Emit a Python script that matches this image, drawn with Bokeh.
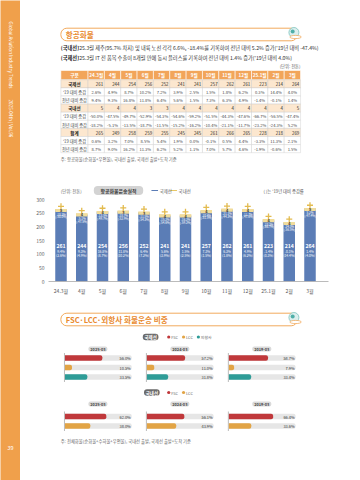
import numpy as np
from bokeh.plotting import figure
from bokeh.models import Range1d, FixedTicker
from bokeh.layouts import row, column
from bokeh.core.properties import value
from bokeh.embed import file_html
from bokeh.resources import INLINE

KR = "Noto Sans CJK KR"

# ---------------- data ----------------
months = ["24.3월", "4월", "5월", "6월", "7월", "8월", "9월", "10월", "11월", "12월", "25.1월", "2월", "3월"]
intl = [261, 244, 254, 256, 252, 241, 241, 257, 262, 261, 223, 214, 264]
intl_vs19 = [2.6, 4.9, 8.7, 10.2, 7.2, 3.9, 2.5, 1.5, 1.8, 6.2, 0.3, 14.4, 4.0]
intl_yoy = [9.4, 9.3, 16.8, 11.8, 6.4, 5.6, 1.5, 7.3, 6.3, 4.9, -1.4, -0.1, 1.4]
dom = [5, 4, 4, 3, 3, 4, 4, 4, 4, 4, 4, 4, 5]
dom_vs19 = [-50.0, -47.5, -49.7, -52.9, -54.3, -54.6, -59.2, -51.5, -44.3, -47.6, -66.7, -56.5, -47.4]
dom_yoy = [-18.2, -5.1, -13.5, -18.7, -11.5, -15.2, -16.2, -10.4, -21.1, -11.7, -23.2, -24.3, 5.2]
total = [265, 249, 258, 259, 255, 245, 245, 261, 266, 265, 228, 218, 269]
total_vs19 = [0.6, 3.2, 7.0, 8.5, 5.4, 1.9, 0.0, -0.1, 0.5, 4.4, -3.3, 11.3, 2.1]
total_yoy = [8.7, 9.0, 16.2, 11.3, 6.2, 5.2, 1.1, 7.0, 5.7, 4.6, -1.9, -0.6, 1.5]
y_ticks = [0, 50, 100, 150, 200, 250, 300]

periods = ["2025-03", "2024-03", "2019-03"]
intl_fsc = [56.0, 57.2, 58.7]
intl_lcc = [10.5, 11.0, 7.9]
intl_foreign = [33.5, 31.8, 33.4]
dom_fsc = [62.0, 56.1, 66.4]
dom_lcc = [38.0, 43.9, 33.6]

# ---------------- style ----------------
ORANGE = "#F0A04B"
ORANGE_TXT = "#E98A2E"
BLUE = "#5B7DB6"
YELLOW = "#E8C766"
FSC_C = "#C0383B"
LCC_C = "#E2A445"
FOR_C = "#2E9C97"


def T(p, xs, ys, texts, size, color="#333333", align="left", bold=False,
      baseline="middle", angle=0, **kw):
    if not isinstance(xs, (list, tuple, np.ndarray)):
        xs, ys, texts = [xs], [ys], [texts]
    p.text(x=list(xs), y=list(ys), text=list(texts), text_font=value(KR),
           text_font_size=f"{size}px", text_color=color, text_align=align,
           text_baseline=baseline, text_font_style="bold" if bold else "normal",
           angle=angle, **kw)


def canvas(w, h, x0, x1, y0, y1):
    p = figure(width=w, height=h, x_range=Range1d(x0, x1), y_range=Range1d(y1, y0),
               toolbar_location=None, output_backend="svg", min_border=0,
               x_axis_location=None, y_axis_location=None)
    p.grid.visible = False
    p.outline_line_color = None
    return p


def pct(v):
    return f"{v:.1f}%"


def section_header(p, y, title):
    p.quad(left=[35], right=[322], top=[y - 6.3], bottom=[y + 6.3], fill_color="white",
           line_color=ORANGE, line_width=0.9, border_radius=6)
    T(p, 41, y + 0.3, title, 7.6, ORANGE_TXT, bold=True)
    p.scatter(x=[318], y=[y - 2], size=10, marker="circle", fill_color="#DCEFEE",
              line_color="#6FBDB7", line_width=0.7)
    p.scatter(x=[316.5], y=[y - 3], size=4, marker="circle", fill_color="#4FAFA8", line_color=None)
    p.ellipse(x=[320], y=[y + 2.5], width=14, height=3.2, fill_color="white",
              line_color=ORANGE, line_width=0.7)


# ---------------- sidebar ----------------
side = canvas(20, 480, 0, 20, 0, 480)
side.background_fill_color = ORANGE
side.border_fill_color = ORANGE
T(side, 10, 21, "Global Aviation Industry Trends", 4.6, "white", angle=-np.pi / 2)
T(side, 10, 99, "2025-04th  |  Vol.96", 4.6, "white", angle=-np.pi / 2)
T(side, 10, 447, "39", 5.5, "white", align="center")

# ---------------- top: header + table ----------------
top = canvas(340, 196, 20, 360, 0, 196)
section_header(top, 34, "항공화물")
T(top, 35, 47, "(국내선)", 5.2, "#222222", bold=True)
T(top, 55.5, 47, "'25.3월 제주(95.7% 차지) 및 내륙 노선 각각 6.6%, -18.4%를 기록하여 전년 대비 5.2% 증가('19년 대비 -47.4%)",
  5.2, "#333333")
T(top, 35, 57, "(국제선)", 5.2, "#222222", bold=True)
T(top, 55.5, 57, "'25.3월 IT 전 품목 수출이 8개월 만에 동시 플러스를 기록하여 전년 대비 1.4% 증가('19년 대비 4.0%)",
  5.2, "#333333")
T(top, 326, 65.5, "(단위: 천톤)", 4.3, "#666666", align="right")

# table
col_l = [35.0] + [68 + 19.85 * i for i in range(13)]
col_r = [68.0] + [68 + 19.85 * (i + 1) for i in range(13)]
hdr_t, hdr_b = 70.0, 79.3
rh = 8.1
row_labels = ["국제선", "'19 대비 증감", "전년 대비 증감", "국내선", "'19 대비 증감", "전년 대비 증감",
              "합계", "'19 대비 증감", "전년 대비 증감"]
row_vals = [intl, intl_vs19, intl_yoy, dom, dom_vs19, dom_yoy, total, total_vs19, total_yoy]
main_rows = {0, 3, 6}

top.quad(left=col_l, right=col_r, top=[hdr_t] * 14, bottom=[hdr_b] * 14,
         fill_color="#F2A55A", line_color="white", line_width=0.6)
T(top, [(a + b) / 2 for a, b in zip(col_l, col_r)], [(hdr_t + hdr_b) / 2 + 0.2] * 14, ["구분"] + months,
  4.6, "white", align="center", bold=True)

L, R, TT, B, F = [], [], [], [], []
for r in range(9):
    t = hdr_b + rh * r
    for c in range(14):
        L.append(col_l[c]); R.append(col_r[c]); TT.append(t); B.append(t + rh)
        F.append("#FCE7CF" if r in main_rows else "white")
top.quad(left=L, right=R, top=TT, bottom=B, fill_color=F, line_color="#C9C9C9", line_width=0.4)

for r in range(9):
    yc = hdr_b + rh * r + rh / 2 + 0.2
    vals = row_vals[r]
    if r in main_rows:
        T(top, (col_l[0] + col_r[0]) / 2, yc, row_labels[r], 4.5, "#222222", align="center", bold=True)
        T(top, [col_r[c + 1] - 1.5 for c in range(13)], [yc] * 13, [str(v) for v in vals], 4.4,
          "#222222", align="right")
    else:
        T(top, (col_l[0] + col_r[0]) / 2, yc, row_labels[r], 4.2, "#444444", align="center")
        T(top, [(col_l[c + 1] + col_r[c + 1]) / 2 for c in range(13)], [yc] * 13,
          [pct(v) for v in vals], 4.1, "#444444", align="center")

T(top, 35, 158.5, "주: 항공화물(순화물+우편물), 국내선 출발, 국제선 출발+도착 기준", 4.3, "#666666")

# chart heading (placed in top canvas)
hy = 190
T(top, 35, hy, "(단위: 천톤)", 4.3, "#666666")
top.quad(left=[75], right=[135], top=[hy - 4.5], bottom=[hy + 4.5], fill_color="#D3D3D3",
         line_color=None, border_radius=4)
T(top, 105, hy + 0.2, "항공화물운송실적", 4.9, "#3A3A3A", align="center", bold=True)
top.segment(x0=[145, 168], y0=[hy, hy], x1=[153, 176], y1=[hy, hy],
            line_color=[BLUE, YELLOW], line_width=1.2)
T(top, [155, 178], [hy, hy], ["국제선", "국내선"], 4.4, "#555555")
T(top, 330, hy, "( )는 '19년 대비 증감률", 4.3, "#555555", align="right")

# ---------------- bar chart ----------------
step = 20.75
x_first = 60.5
frame_top, frame_bot = 197, 281
px_per = (frame_bot - 199) / 300.0
ch = figure(width=340, height=104, output_backend="svg", toolbar_location=None,
            x_range=Range1d((48 - x_first) / step, (328 - x_first) / step),
            y_range=Range1d(0, (frame_bot - frame_top) / px_per),
            min_border_left=28, min_border_right=32, min_border_top=frame_top - 196,
            min_border_bottom=300 - frame_bot)
ch.outline_line_color = None
ch.grid.visible = False
idx = list(range(len(months)))
bw = 11.5 / step
ch.vbar(x=idx, top=intl, bottom=0, width=bw, fill_color=BLUE, line_color=None)
ch.vbar(x=idx, top=total, bottom=intl, width=bw, fill_color=YELLOW, line_color=None)
ch.vbar(x=idx, top=[t for t in total], bottom=[t - 11 for t in total], width=bw,
        fill_color="#F1DC9C", line_color=None)
ch.scatter(x=idx, y=[t + 10 for t in total], marker="cross", size=6, line_color="#E3BB4E",
           line_width=1.3)
T(ch, idx, [t - 5.5 for t in total], [str(v) for v in dom], 3.8, "#333333", align="center", bold=True)
T(ch, idx, [t - 20 for t in total], [pct(v) for v in dom_yoy], 3.0, "white", align="center")
T(ch, idx, [t - 30 for t in total], [f"({pct(v)})" for v in dom_vs19], 3.0, "white", align="center")
T(ch, idx, [128.6] * 13, [str(v) for v in intl], 5.2, "white", align="center", bold=True)
T(ch, idx, [110.0] * 13, [pct(v) for v in intl_yoy], 3.3, "white", align="center")
T(ch, idx, [95.0] * 13, [f"({pct(v)})" for v in intl_vs19], 3.3, "white", align="center")

for ax in (ch.xaxis, ch.yaxis):
    ax.major_tick_out = 0
    ax.major_tick_in = 0
    ax.minor_tick_out = 0
    ax.minor_tick_in = 0
    ax.major_tick_line_color = None
    ax.minor_tick_line_color = None
    ax.major_label_text_font = KR
    ax.major_label_text_font_size = "5px"

ch.yaxis.ticker = FixedTicker(ticks=y_ticks)
ch.yaxis.axis_line_color = None
ch.yaxis.major_label_text_color = "#666666"
ch.yaxis.major_label_standoff = 4
ch.xaxis.ticker = FixedTicker(ticks=idx)
ch.xaxis.major_label_overrides = {i: m for i, m in enumerate(months)}
ch.xaxis.axis_line_color = "#AAAAAA"
ch.xaxis.axis_line_width = 0.8
ch.xaxis.major_label_text_color = "#555555"
ch.xaxis.major_label_standoff = 5

# ---------------- bottom: FSC/LCC shares ----------------
bot = canvas(340, 180, 20, 360, 300, 480)
section_header(bot, 319, "FSC·LCC·외항사 화물운송 비중")

g_left = [40.0, 139.5, 239.0]
g_len = 81.0
for g in range(3):
    bot.extra_x_ranges[f"g{g}"] = Range1d((20 - g_left[g]) / g_len * 100, (360 - g_left[g]) / g_len * 100)


def pill(p, xc, yc, w, h, label, fill, color, size, bold=True):
    p.quad(left=[xc - w / 2], right=[xc + w / 2], top=[yc - h / 2], bottom=[yc + h / 2],
           fill_color=fill, line_color=None, border_radius=int(h // 2))
    T(p, xc, yc + 0.2, label, size, color, align="center", bold=bold)


def legend(p, x, y, names, colors):
    xs = x
    for n, c in zip(names, colors):
        p.scatter(x=[xs], y=[y], marker="circle", size=3.2, fill_color=c, line_color=None)
        T(p, xs + 3, y + 0.2, n, 3.9, "#666666")
        xs += 15.5 if len(n) < 3 else 18


def share_block(p, y_year, rows_y, series, colors):
    for g in range(3):
        rng = f"g{g}"
        pill(p, g_left[g] + 40, y_year, 23, 5.2, periods[g], "#DADADA", "#444444", 3.9)
        p.segment(x0=[g_left[g] - 0.6], y0=[rows_y[0] - 5], x1=[g_left[g] - 0.6],
                  y1=[rows_y[-1] + 5], line_color="#AAAAAA", line_width=0.8)
        p.hbar(y=rows_y, left=0, right=100, height=5.4, fill_color="#E6E6E6", line_color=None,
               border_radius=(0, 2, 2, 0), x_range_name=rng)
        vals = [s[g] for s in series]
        p.hbar(y=rows_y, left=0, right=vals, height=5.4, fill_color=colors, line_color=None,
               border_radius=(0, 2, 2, 0), x_range_name=rng)
        T(p, [98.5] * len(vals), [y + 0.2 for y in rows_y], [pct(v) for v in vals], 3.9,
          "#333333", align="right", x_range_name=rng)


pill(bot, 144, 336.5, 19, 6.4, "국제선", "#6B6B6B", "white", 4.5)
legend(bot, 166, 336.5, ["FSC", "LCC", "외항사"], [FSC_C, LCC_C, FOR_C])
share_block(bot, 348.5, [357.5, 367.0, 376.5], [intl_fsc, intl_lcc, intl_foreign],
            [FSC_C, LCC_C, FOR_C])
pill(bot, 145.5, 392, 19, 6.4, "국내선", "#6B6B6B", "white", 4.5)
legend(bot, 166, 392, ["FSC", "LCC"], [FSC_C, LCC_C])
share_block(bot, 403.5, [416.0, 425.5], [dom_fsc, dom_lcc], [FSC_C, LCC_C])

T(bot, 35, 440, "주: 전체화물(순화물+수하물+우편물), 국내선 출발, 국제선 출발+도착 기준", 4.3, "#666666")

layout = row(side, column(top, ch, bot, spacing=0), spacing=0)
open("out.html", "w").write(file_html(layout, INLINE))
